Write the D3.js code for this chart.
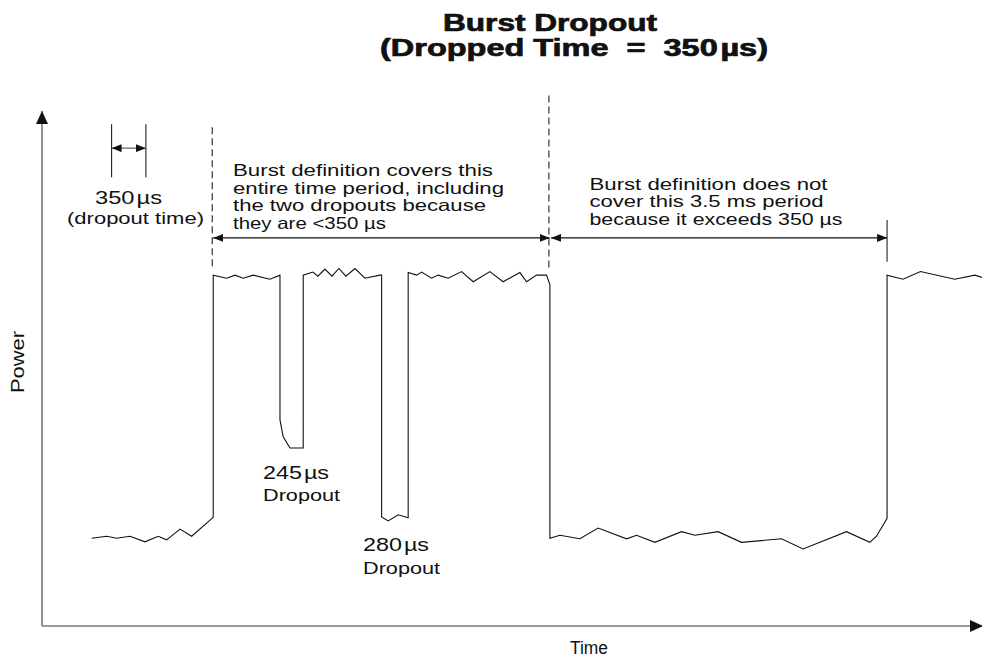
<!DOCTYPE html>
<html>
<head>
<meta charset="utf-8">
<script src="https://cdn.jsdelivr.net/npm/d3@7"></script>
<style>
  body { margin: 0; background: #fff; }
  svg { display: block; }
  text { font-family: "Liberation Sans", Arial, sans-serif; fill: #111; white-space: pre; }
</style>
</head>
<body>
<script>
const width = 982;
const height = 658;

// Waveform: time in µs, power in arbitrary units
const waveT = [507, 660, 762, 898, 1051, 1186, 1272, 1408, 1527, 1747,
  1747, 1884, 1969, 2053, 2155, 2326, 2428,
  2428, 2461, 2530, 2665, 2665,
  2764, 2815, 2887, 2958, 3029, 3101, 3193, 3295, 3448, 3465,
  3465, 3532, 3634, 3736,
  3736, 3822, 3873, 3975, 4042, 4144, 4281, 4399, 4570, 4705, 4876, 4944, 5046, 5148, 5182,
  5182, 5284, 5488, 5674, 5964, 6066, 6253, 6525, 6661, 6898, 7137, 7545, 7765, 8208, 8446, 8514, 8622,
  8622, 8785, 8963, 9313, 9517, 9598];
const waveP = [17.2, 17.6, 17.2, 17.6, 16.5, 17.6, 16.9, 19.0, 17.6, 21.3,
  68.8, 68.2, 68.8, 68.2, 68.8, 68.0, 68.8,
  40.4, 37.1, 34.9, 34.9, 68.8,
  69.4, 68.6, 70.0, 68.6, 70.1, 68.6, 70.1, 68.2, 68.8, 68.8,
  21.4, 20.6, 21.8, 21.2,
  69.3, 68.8, 69.4, 68.2, 68.8, 68.2, 69.5, 67.5, 69.5, 67.5, 69.3, 67.5, 68.8, 68.8, 66.9,
  17.2, 17.8, 17.1, 19.2, 17.1, 17.8, 16.4, 18.5, 17.8, 18.5, 16.4, 17.1, 15.1, 18.5, 16.4, 17.6, 21.1,
  68.8, 68.0, 69.5, 68.0, 68.8, 68.3];

// Key times (µs)
const dropoutTime = 350;
const markerStart = 710;
const burstStart = 1747;
const burstEnd = 5182;
const gapEnd = 8622;

// Texts
const titleLines = ["Burst Dropout", "(Dropped Time  =  350\u200Aµs)"];
const coversNote = ["Burst definition covers this", "entire time period, including",
  "the two dropouts because", "they are <350 µs"];
const notCoverNote = ["Burst definition does not", "cover this 3.5 ms period",
  "because it exceeds 350 µs"];
const dropoutLabels = ["245\u200Aµs", "280\u200Aµs"];

const x = d3.scaleLinear().domain([0, 9560]).range([42, 979]);
const y = d3.scaleLinear().domain([0, 101]).range([626, 110.9]);

const svg = d3.select("body")
  .append("svg")
  .attr("width", width)
  .attr("height", height)
  .attr("viewBox", [0, 0, width, height]);

// Arrow markers
const defs = svg.append("defs");
defs.append("marker")
  .attr("id", "arrow")
  .attr("viewBox", "0 0 10 8")
  .attr("refX", 10).attr("refY", 4)
  .attr("markerWidth", 10).attr("markerHeight", 8)
  .attr("markerUnits", "userSpaceOnUse")
  .attr("orient", "auto-start-reverse")
  .append("path").attr("d", "M0,0L10,4L0,8Z").attr("fill", "#111");
defs.append("marker")
  .attr("id", "axis-arrow")
  .attr("viewBox", "0 0 13 12")
  .attr("refX", 13).attr("refY", 6)
  .attr("markerWidth", 13).attr("markerHeight", 12)
  .attr("markerUnits", "userSpaceOnUse")
  .attr("orient", "auto")
  .append("path").attr("d", "M0,0L13,6L0,12Z").attr("fill", "#111");

// Axes
svg.append("line")
  .attr("x1", x(0)).attr("y1", y(0))
  .attr("x2", x(0)).attr("y2", y(101))
  .attr("stroke", "#777").attr("stroke-width", 1.6)
  .attr("marker-end", "url(#axis-arrow)");
svg.append("line")
  .attr("x1", x(0)).attr("y1", y(0))
  .attr("x2", x(9600)).attr("y2", y(0))
  .attr("stroke", "#777").attr("stroke-width", 1.6)
  .attr("marker-end", "url(#axis-arrow)");

// Waveform
const wave = d3.range(waveT.length).map(i => [waveT[i], waveP[i]]);
svg.append("path")
  .datum(wave)
  .attr("fill", "none")
  .attr("stroke", "#111")
  .attr("stroke-width", 1.1)
  .attr("d", d3.line().x(d => x(d[0])).y(d => y(d[1])));

// 350 µs reference marker
[markerStart, markerStart + dropoutTime].forEach(t => {
  svg.append("line")
    .attr("x1", x(t)).attr("x2", x(t))
    .attr("y1", y(88)).attr("y2", y(98.4))
    .attr("stroke", "#222").attr("stroke-width", 1.1);
});
svg.append("line")
  .attr("x1", x(markerStart)).attr("x2", x(markerStart + dropoutTime))
  .attr("y1", y(93.7)).attr("y2", y(93.7))
  .attr("stroke", "#666").attr("stroke-width", 1.2)
  .attr("marker-start", "url(#arrow)")
  .attr("marker-end", "url(#arrow)");

// Dashed burst boundaries
[[burstStart, 97.8], [burstEnd, 104]].forEach(([t, top]) => {
  svg.append("line")
    .attr("x1", x(t) - 1).attr("x2", x(t) - 1)
    .attr("y1", y(top)).attr("y2", y(69.8))
    .attr("stroke", "#222").attr("stroke-width", 1.1)
    .attr("stroke-dasharray", "7,4");
});

// Solid end-of-gap mark
svg.append("line")
  .attr("x1", x(gapEnd)).attr("x2", x(gapEnd))
  .attr("y1", y(79.6)).attr("y2", y(71.4))
  .attr("stroke", "#222").attr("stroke-width", 1.1);

// Span arrows
[[burstStart, burstEnd - 2], [burstEnd + 12, gapEnd]].forEach(([a, b]) => {
  svg.append("line")
    .attr("x1", x(a)).attr("x2", x(b))
    .attr("y1", y(76.1)).attr("y2", y(76.1))
    .attr("stroke", "#111").attr("stroke-width", 1.1)
    .attr("marker-start", "url(#arrow)")
    .attr("marker-end", "url(#arrow)");
});

// Text helper
function label(str, px, py, size, w, weight) {
  const t = svg.append("text")
    .attr("x", px).attr("y", py)
    .style("font-size", size + "px")
    .style("font-weight", weight || "normal")
    .text(str);
  if (w) t.attr("textLength", w).attr("lengthAdjust", "spacingAndGlyphs");
  return t;
}

// Title (heavy, wide face)
label(titleLines[0], 443, 31, 23, 214, "bold")
  .attr("stroke", "#111").attr("stroke-width", 0.7);
label(titleLines[1], 380, 56, 23, 388, "bold")
  .attr("stroke", "#111").attr("stroke-width", 0.7);

// Notes
label("350\u200Aµs", 95, 204, 19, 67);
label("(dropout time)", 67, 224, 16.5, 137);

const coversW = [260, 271, 253, 153];
coversNote.forEach((s, i) => label(s, 233, 176 + i * 17.5, 16.5, coversW[i]));
const notCoverW = [238, 234, 253];
notCoverNote.forEach((s, i) => label(s, 589.5, 189.5 + i * 17.5, 16.5, notCoverW[i]));

label(dropoutLabels[0], 263, 479, 19, 66);
label("Dropout", 263, 501, 16, 77);
label(dropoutLabels[1], 363, 551, 19, 66);
label("Dropout", 363, 574, 16, 77);

// Axis titles
svg.append("text")
  .attr("transform", "translate(24,362) rotate(-90)")
  .attr("text-anchor", "middle")
  .attr("textLength", 62).attr("lengthAdjust", "spacingAndGlyphs")
  .style("font-size", "18px")
  .text("Power");
svg.append("text")
  .attr("x", 570).attr("y", 654)
  .attr("textLength", 38).attr("lengthAdjust", "spacingAndGlyphs")
  .style("font-size", "17.5px")
  .text("Time");
</script>
</body>
</html>
